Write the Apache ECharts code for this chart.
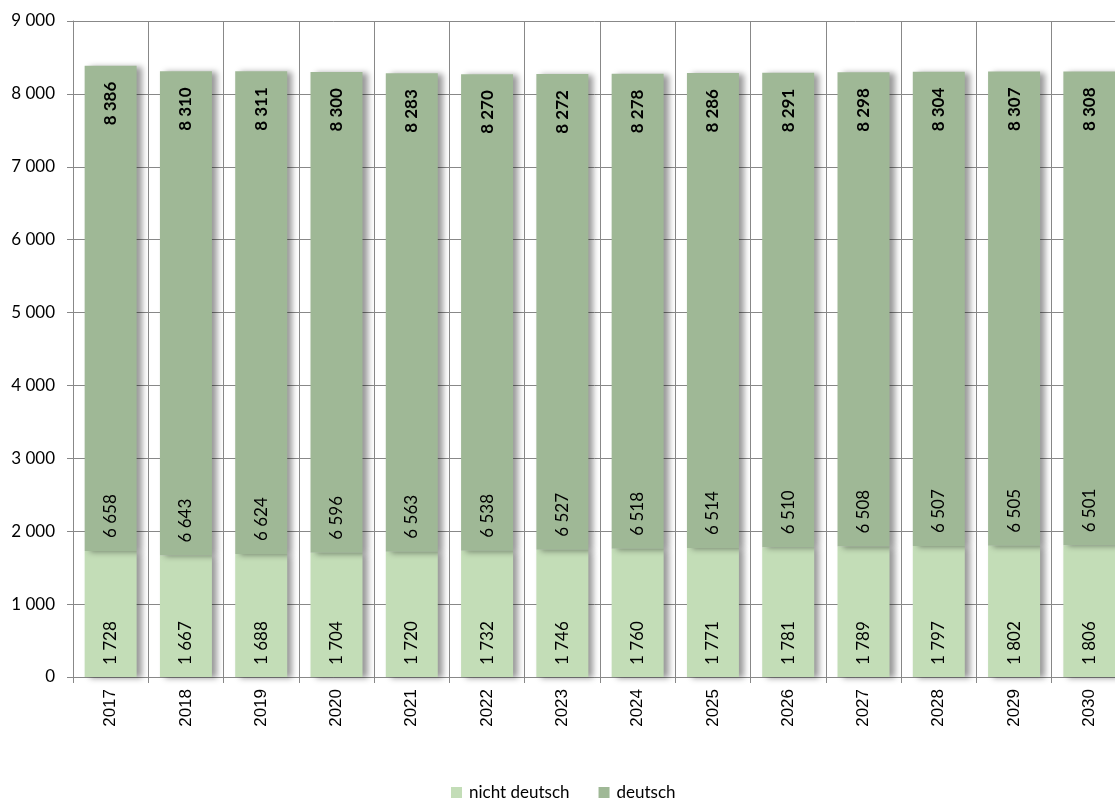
<!DOCTYPE html>
<html>
<head>
<meta charset="utf-8">
<script src="https://cdn.jsdelivr.net/npm/echarts@6/dist/echarts.min.js"></script>
<style>
html,body{margin:0;padding:0;background:#fff;}
#chart{width:1115px;height:805px;}
</style>
</head>
<body>
<div id="chart"></div>
<script>
const categories = ['2017','2018','2019','2020','2021','2022','2023','2024','2025','2026','2027','2028','2029','2030'];
const nichtDeutsch = [1728,1667,1688,1704,1720,1732,1746,1760,1771,1781,1789,1797,1802,1806];
const deutsch = [6658,6643,6624,6596,6563,6538,6527,6518,6514,6510,6508,6507,6505,6501];
const totals = [8386,8310,8311,8300,8283,8270,8272,8278,8286,8291,8298,8304,8307,8308];

function fmt(v){ return String(v).replace(/\B(?=(\d{3})+(?!\d))/g, ' '); }

const FONT = 'Lato';
const chart = echarts.init(document.getElementById('chart'), null, {renderer:'canvas'});
const shadow = {shadowColor:'rgba(0,0,0,0.4)', shadowBlur:6, shadowOffsetX:5, shadowOffsetY:1};

chart.setOption({
  animation:false,
  textStyle:{fontFamily:FONT},
  grid:{left:73, top:21, height:656, width:1054, containLabel:false, outerBoundsMode:'none'},
  legend:{
    bottom:-1, left:446,
    data:['nicht deutsch','deutsch'],
    itemWidth:11, itemHeight:11, itemGap:29,
    icon:'rect',
    textStyle:{fontFamily:FONT, fontSize:17, color:'#000', padding:[0,0,0,2]}
  },
  xAxis:{
    type:'category', data:categories,
    axisLine:{show:true, lineStyle:{color:'#888'}},
    axisTick:{show:true, length:6, lineStyle:{color:'#888'}},
    splitLine:{show:true, lineStyle:{color:'#888'}},
    axisLabel:{rotate:90, fontFamily:'Liberation Sans', fontSize:17, color:'#000', margin:12}
  },
  yAxis:{
    type:'value', min:0, max:9000, interval:1000,
    axisLine:{show:true, lineStyle:{color:'#888'}},
    axisTick:{show:true, length:6, lineStyle:{color:'#888'}},
    splitLine:{show:true, lineStyle:{color:'#888'}},
    axisLabel:{fontFamily:FONT, fontSize:17, color:'#000', margin:18, formatter:fmt}
  },
  series:[
    {
      name:'nicht deutsch', type:'bar', stack:'a', barWidth:52,
      data:nichtDeutsch,
      itemStyle:Object.assign({color:'#c3ddb7'}, shadow),
      label:{show:true, position:'insideBottom', distance:12, rotate:90, align:'left', verticalAlign:'middle',
        fontFamily:FONT, fontSize:17, color:'#000', formatter:p=>fmt(p.value)}
    },
    {
      name:'deutsch', type:'bar', stack:'a', barWidth:52,
      data:deutsch,
      itemStyle:Object.assign({color:'#9fb896'}, shadow),
      label:{show:true, position:'insideBottom', distance:13, rotate:90, align:'left', verticalAlign:'middle',
        fontFamily:FONT, fontSize:17, color:'#000', formatter:p=>fmt(p.value)}
    },
    {
      name:'total', type:'bar', barWidth:52, barGap:'-100%', silent:true,
      data:totals,
      itemStyle:{color:'rgba(0,0,0,0)'},
      label:{show:true, position:'insideTop', distance:16, rotate:90, align:'right', verticalAlign:'middle',
        fontFamily:FONT, fontSize:17, fontWeight:'bold', color:'#000', formatter:p=>fmt(p.value)},
      z:5
    }
  ]
});
</script>
</body>
</html>
